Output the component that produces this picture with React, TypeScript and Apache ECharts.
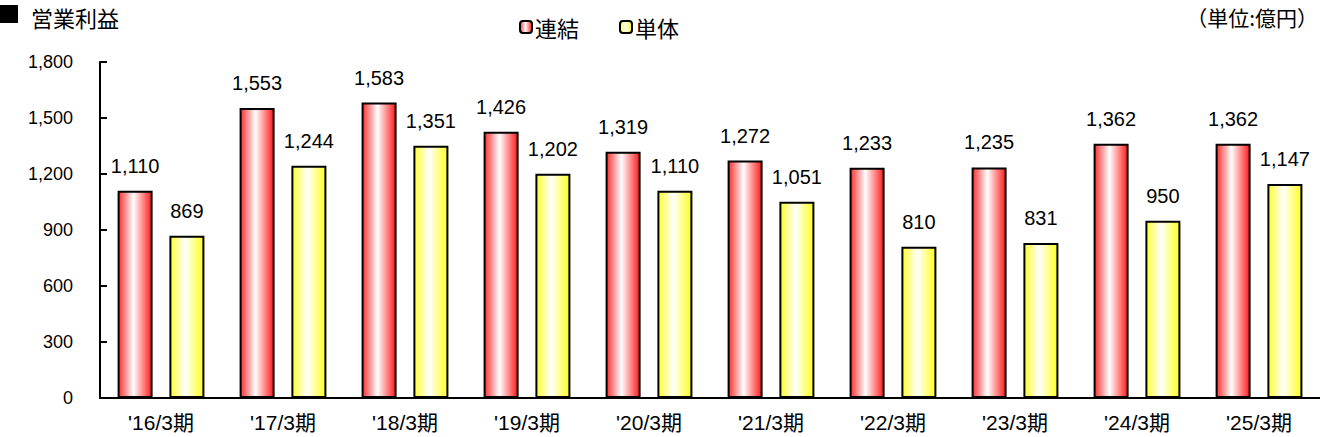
import React, { useEffect, useRef } from "react";
import * as echarts from "echarts";

const categories = ["'16/3期", "'17/3期", "'18/3期", "'19/3期", "'20/3期", "'21/3期", "'22/3期", "'23/3期", "'24/3期", "'25/3期"];
const consolidated = [1110, 1553, 1583, 1426, 1319, 1272, 1233, 1235, 1362, 1362];
const standalone = [869, 1244, 1351, 1202, 1110, 1051, 810, 831, 950, 1147];
const yTicks = [0, 300, 600, 900, 1200, 1500, 1800];

const FONT = "'Liberation Sans', 'Noto Sans CJK JP', sans-serif";
const CJK = "'Noto Sans CJK JP', sans-serif";

const grad = (c: string) =>
  new echarts.graphic.LinearGradient(0, 0, 1, 0, [
    { offset: 0, color: c },
    { offset: 0.45, color: "#ffffff" },
    { offset: 0.95, color: c },
    { offset: 1, color: c },
  ]);

export default function App() {
  const ref = useRef<HTMLDivElement>(null);
  useEffect(() => {
    if (!ref.current) return;
    const chart = echarts.init(ref.current, undefined, { renderer: "svg" });
    const fmt = (p: any) => Number(p.value).toLocaleString("en-US");
    const labelCfg = {
      show: true,
      position: "top",
      distance: 15,
      fontFamily: FONT,
      fontSize: 20,
      color: "#000",
      formatter: fmt,
    };
    chart.setOption({
      animation: false,
      textStyle: { fontFamily: FONT },
      graphic: [
        {
          type: "rect",
          left: 0,
          top: 5,
          shape: { width: 18, height: 18 },
          style: { fill: "#000" },
        },
        {
          type: "text",
          left: 31,
          top: 6,
          style: { text: "営業利益", font: `22px ${CJK}`, fill: "#000" },
        },
        {
          type: "text",
          right: 2,
          top: 6,
          style: { text: "（単位:億円）", font: `21px ${CJK}`, fill: "#000" },
        },
      ],
      legend: {
        left: 514,
        top: 11,
        itemWidth: 12,
        itemHeight: 12,
        itemGap: 40,
        textStyle: { fontFamily: CJK, fontSize: 22, color: "#000", padding: [0, 0, 0, -2] },
        data: [
          { name: "連結", itemStyle: { color: grad("#ff3030"), borderColor: "#000", borderWidth: 2 } },
          { name: "単体", itemStyle: { color: grad("#ffff30"), borderColor: "#000", borderWidth: 2 } },
        ],
      },
      grid: { left: 100, right: 0, top: 62, bottom: 39, containLabel: false },
      xAxis: {
        type: "category",
        data: categories,
        axisLine: { lineStyle: { color: "#000", width: 2 } },
        axisTick: { inside: true, length: 7, lineStyle: { color: "#000", width: 2 } },
        axisLabel: { fontFamily: FONT, fontSize: 21, color: "#000", margin: 14 },
      },
      yAxis: {
        type: "value",
        min: yTicks[0],
        max: yTicks[yTicks.length - 1],
        interval: 300,
        axisLine: { show: true, lineStyle: { color: "#000", width: 2 } },
        axisTick: { show: true, inside: true, length: 7, lineStyle: { color: "#000", width: 2 } },
        splitLine: { show: false },
        axisLabel: {
          fontFamily: FONT,
          fontSize: 18,
          color: "#000",
          margin: 27,
          formatter: (v: number) => v.toLocaleString("en-US"),
        },
      },
      series: [
        {
          name: "連結",
          type: "bar",
          data: consolidated,
          barWidth: 35,
          barGap: "48%",
          itemStyle: { color: grad("#ff3030"), borderColor: "#000", borderWidth: 2 },
          label: labelCfg,
        },
        {
          name: "単体",
          type: "bar",
          data: standalone,
          barWidth: 35,
          itemStyle: { color: grad("#ffff30"), borderColor: "#000", borderWidth: 2 },
          label: labelCfg,
        },
      ],
    });
    return () => chart.dispose();
  }, []);
  return <div ref={ref} style={{ width: 1320, height: 437, position: "absolute", left: 0, top: 0 }} />;
}
